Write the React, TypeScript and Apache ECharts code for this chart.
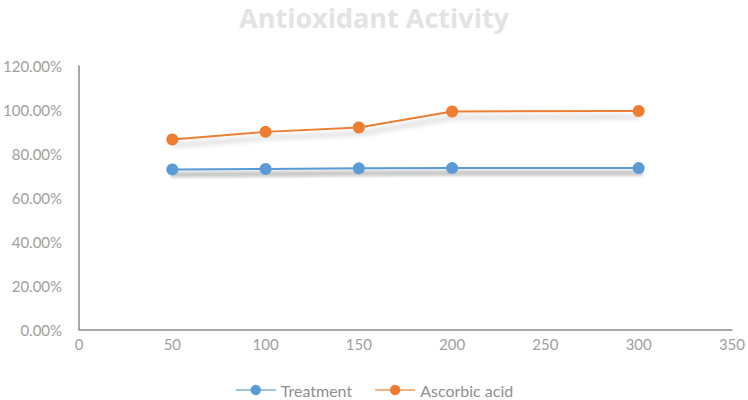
import React, { useEffect, useRef } from "react";
import * as echarts from "echarts";

const concentrations = [50, 100, 150, 200, 300];
const treatment = [0.729, 0.731, 0.734, 0.735, 0.735];
const ascorbicAcid = [0.865, 0.9, 0.92, 0.993, 0.995];
const seriesNames = ["Treatment", "Ascorbic acid"];

const FONT = "Lato, 'Open Sans', sans-serif";

export default function App() {
  const ref = useRef<HTMLDivElement>(null);
  useEffect(() => {
    document.body.style.margin = "0";
    const chart = echarts.init(ref.current!, null, { renderer: "svg" });
    const lineShadow = {
      shadowColor: "rgba(0,0,0,0.28)",
      shadowBlur: 5,
      shadowOffsetY: 6,
      shadowOffsetX: 1,
    };
    chart.setOption({
      animation: false,
      backgroundColor: "#ffffff",
      title: {
        text: "Antioxidant Activity",
        left: "center",
        top: 4,
        padding: 0,
        textStyle: {
          color: "#e3e3e3",
          fontSize: 27,
          fontWeight: "bold",
          fontFamily: "'Open Sans', Lato, sans-serif",
        },
      },
      grid: { left: 77, right: 14, top: 66, bottom: 70.5 },
      legend: {
        data: [
          { name: seriesNames[0], lineStyle: { color: "#9dc3e6" } },
          { name: seriesNames[1], lineStyle: { color: "#f4b183" } },
        ],
        bottom: -3,
        left: "center",
        itemWidth: 40,
        itemHeight: 13,
        itemGap: 22,
        textStyle: { color: "#8f8f8f", fontSize: 16, fontFamily: FONT },
      },
      xAxis: {
        type: "value",
        min: 0,
        max: 350,
        interval: 50,
        axisLine: { show: true, lineStyle: { color: "#8a8a8a", width: 1.5 } },
        axisTick: { show: false },
        splitLine: { show: false },
        axisLabel: { color: "#a0a0a0", fontSize: 15, fontFamily: FONT, margin: 7 },
      },
      yAxis: {
        type: "value",
        min: 0,
        max: 1.2,
        interval: 0.2,
        axisLine: { show: true, lineStyle: { color: "#8a8a8a", width: 1.5 } },
        axisTick: { show: false },
        splitLine: { show: false },
        axisLabel: {
          color: "#a0a0a0",
          fontSize: 15,
          fontFamily: FONT,
          margin: 17,
          formatter: (v: number) => (v * 100).toFixed(2) + "%",
        },
      },
      series: [
        {
          name: "shadow",
          type: "custom",
          silent: true,
          z: 1,
          data: [0],
          renderItem: (_params: any, api: any) => {
            const pts = concentrations.map((c, i) => {
              const p = api.coord([c, treatment[i]]);
              return [p[0] + 1, p[1] + 5];
            });
            const layers = [9, 6, 3].map((w) => ({
              type: "polyline",
              shape: { points: pts },
              style: { fill: null, stroke: "rgba(0,0,0,0.07)", lineWidth: w, lineCap: "round", lineJoin: "round" },
            }));
            return { type: "group", children: layers };
          },
        },
        {
          name: seriesNames[0],
          type: "line",
          z: 3,
          data: concentrations.map((c, i) => [c, treatment[i]]),
          symbol: "circle",
          symbolSize: 12,
          itemStyle: { color: "#5b9bd5" },
          lineStyle: { color: "#5b9bd5", width: 2 },
        },
        {
          name: seriesNames[1],
          type: "line",
          z: 3,
          data: concentrations.map((c, i) => [c, ascorbicAcid[i]]),
          symbol: "circle",
          symbolSize: 12,
          itemStyle: { color: "#ed7d31" },
          lineStyle: { color: "#ed7d31", width: 2, ...lineShadow },
        },
      ],
    });
    return () => chart.dispose();
  }, []);
  return <div ref={ref} style={{ width: 748, height: 400 }} />;
}
